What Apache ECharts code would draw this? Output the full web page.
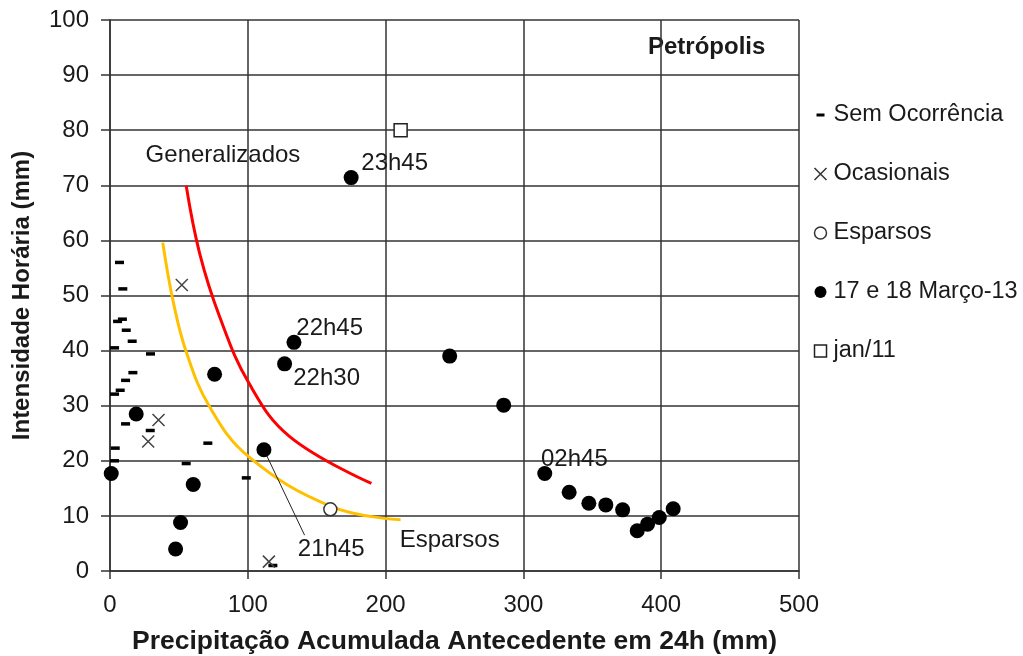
<!DOCTYPE html>
<html><head><meta charset="utf-8">
<script src="https://cdn.jsdelivr.net/npm/echarts@6/dist/echarts.min.js"></script>
<style>html,body{margin:0;padding:0;background:#fff}#c{width:1023px;height:656px}</style>
</head><body><div id="c"></div>
<script>
// ---- data ----
const semOcorrencia = [[6.9,56.0],[9.3,51.2],[5.5,45.3],[9.0,45.7],[11.8,43.7],[16.1,41.7],[3.3,40.5],[29.4,39.4],[16.6,36.0],[11.3,34.6],[7.4,32.8],[3.3,32.1],[11.3,26.7],[29.2,25.5],[3.8,22.3],[71.0,23.2],[3.3,20.0],[55.3,19.5],[98.9,16.9],[118.2,1.0]];
const ocasionais = [[52.1,51.9],[35.2,27.4],[27.7,23.5],[115.3,1.7]];
const esparsos = [[159.9,11.2]];
const marco13 = [[175.0,71.4],[133.5,41.5],[126.7,37.6],[75.9,35.7],[19.0,28.5],[111.7,22.0],[0.9,17.7],[60.4,15.7],[51.2,8.8],[47.6,4.0],[246.5,39.0],[285.7,30.1],[315.5,17.7],[333.2,14.3],[347.5,12.3],[359.8,12.0],[372.0,11.1],[382.6,7.3],[390.1,8.5],[398.6,9.7],[408.7,11.3]];
const jan11 = [[210.9,80.0]];
const generalizadosX = [55.3,65.0,79.5,100.8,130.4,189.7];
const generalizadosY = [69.9,57.7,46.2,34.1,24.4,15.9];
const esparsosCurveX = [38.3,45.6,55.3,72.3,100.8,160.6,210.9];
const esparsosCurveY = [59.6,49.2,39.8,29.8,20.7,11.7,9.3];
const leaderX = [111.7,141.2];
const leaderY = [22.0,6.5];
const seriesNames = ['Sem Ocorrência','Ocasionais','Esparsos','17 e 18 Março-13','jan/11'];
const annotTexts = ['Generalizados','Esparsos','23h45','22h45','22h30','21h45','02h45'];
const annotX = [82.0,246.5,206.6,159.4,157.2,160.5,337.0];
const annotY = [75.5,5.6,74.0,44.1,35.0,4.0,20.3];
const xTicks = {min:0,max:500,interval:100};
const yTicks = {min:0,max:100,interval:10};

const FONT = 'Liberation Sans, Arial, sans-serif';
const TXT = '#1a1a1a';
const crossPath = 'path://M0,0L10,10M10,0L0,10';
const dashLegendPath = 'path://M0,0M12,12M2,4.5h8v3h-8z';

const zip = (xs, ys) => xs.map((x,i)=>[x, ys[i]]);

const chart = echarts.init(document.getElementById('c'), null, {renderer:'canvas'});
chart.setOption({
  animation:false,
  backgroundColor:'#fff',
  textStyle:{fontFamily:FONT},
  grid:{left:110,right:224,top:20,bottom:85,containLabel:false,outerBoundsMode:'none'},
  xAxis:{type:'value',min:xTicks.min,max:xTicks.max,interval:xTicks.interval,
    name:'Precipitação Acumulada Antecedente em 24h (mm)',nameLocation:'middle',nameGap:57,
    nameTextStyle:{fontFamily:FONT,fontSize:26.5,fontWeight:'bold',color:TXT},
    axisLine:{show:true,onZero:false,lineStyle:{color:'#333',width:1.5}},
    axisTick:{show:true,inside:false,length:8,lineStyle:{color:'#333',width:1.5}},
    axisLabel:{fontFamily:FONT,fontSize:24,color:TXT,margin:22},
    splitLine:{show:true,lineStyle:{color:'#333',width:1.5}}},
  yAxis:{type:'value',min:yTicks.min,max:yTicks.max,interval:yTicks.interval,
    name:'Intensidade Horária (mm)',nameLocation:'middle',nameGap:76,nameRotate:90,
    nameTextStyle:{fontFamily:FONT,fontSize:24,fontWeight:'bold',color:TXT},
    axisLine:{show:true,onZero:false,lineStyle:{color:'#333',width:1.5}},
    axisTick:{show:true,inside:false,length:9,lineStyle:{color:'#333',width:1.5}},
    axisLabel:{fontFamily:FONT,fontSize:24,color:TXT,margin:21},
    splitLine:{show:true,lineStyle:{color:'#333',width:1.5}}},
  legend:{orient:'vertical',left:807,top:98,itemWidth:12,itemHeight:12,itemGap:35,
    textStyle:{fontFamily:FONT,fontSize:23.5,color:TXT,padding:[0,0,0,2]},
    data:[
      {name:seriesNames[0],icon:dashLegendPath,itemStyle:{color:'#000',borderWidth:0}},
      {name:seriesNames[1],icon:crossPath,itemStyle:{color:'none',borderColor:'#333',borderWidth:1.5}},
      {name:seriesNames[2],icon:'circle',itemStyle:{color:'#fff',borderColor:'#333',borderWidth:1.5}},
      {name:seriesNames[3],icon:'circle',itemStyle:{color:'#000',borderWidth:0}},
      {name:seriesNames[4],icon:'rect',itemStyle:{color:'#fff',borderColor:'#222',borderWidth:1.5}}
    ]},
  graphic:[{type:'text',left:648,top:35,style:{text:'Petrópolis',font:'bold 24px '+FONT,fill:TXT}}],
  series:[
    {name:'Generalizados curva',type:'line',data:zip(generalizadosX,generalizadosY),smooth:0.4,showSymbol:false,symbol:'none',
      lineStyle:{color:'#ff0000',width:3},z:3,silent:true},
    {name:'Esparsos curva',type:'line',data:zip(esparsosCurveX,esparsosCurveY),smooth:0.4,showSymbol:false,symbol:'none',
      lineStyle:{color:'#ffc000',width:3},z:3,silent:true},
    {name:'leader',type:'line',data:zip(leaderX,leaderY),showSymbol:false,symbol:'none',
      lineStyle:{color:'#222',width:1},z:4,silent:true},
    {name:seriesNames[0],type:'scatter',data:semOcorrencia,symbol:'rect',symbolSize:[9,3.5],
      itemStyle:{color:'#000',opacity:1},z:5},
    {name:seriesNames[1],type:'scatter',data:ocasionais,symbol:crossPath,symbolSize:12,
      itemStyle:{color:'none',borderColor:'#444',borderWidth:1.5,opacity:1},z:5},
    {name:seriesNames[2],type:'scatter',data:esparsos,symbol:'circle',symbolSize:13,
      itemStyle:{color:'#fff',borderColor:'#333',borderWidth:1.5,opacity:1},z:6},
    {name:seriesNames[3],type:'scatter',data:marco13,symbol:'circle',symbolSize:15,
      itemStyle:{color:'#000',opacity:1},z:6},
    {name:seriesNames[4],type:'scatter',data:jan11,symbol:'rect',symbolSize:13,
      itemStyle:{color:'#fff',borderColor:'#222',borderWidth:1.5,opacity:1},z:6},
    {name:'annotations',type:'scatter',symbolSize:0,silent:true,z:7,
      itemStyle:{opacity:1},
      data:annotTexts.map((t,i)=>({name:t,value:[annotX[i],annotY[i]]})),
      label:{show:true,position:'inside',formatter:p=>p.name,fontFamily:FONT,fontSize:24,color:TXT,opacity:1}}
  ]
});
</script></body></html>
